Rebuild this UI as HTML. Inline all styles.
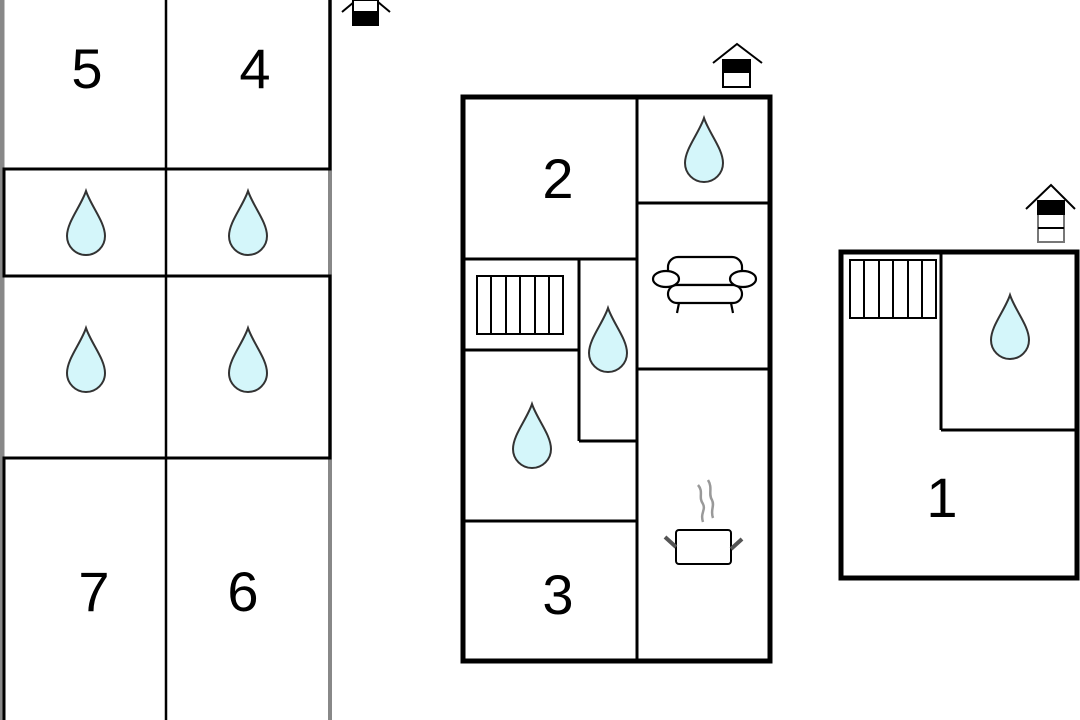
<!DOCTYPE html>
<html><head><meta charset="utf-8"><style>
html,body{margin:0;padding:0;background:#fff;}
svg{display:block}
text{font-family:"Liberation Sans",sans-serif;fill:#000;text-anchor:middle;}
</style></head><body>
<svg width="1080" height="720" viewBox="0 0 1080 720" xmlns="http://www.w3.org/2000/svg">
<defs>
<path id="drop" d="M0,0 C5,15 19,31 19,45 A19,19 0 0 1 -19,45 C-19,31 -5,15 0,0 Z" fill="#d4f6fa" stroke="#333" stroke-width="2"/>
</defs>
<rect width="1080" height="720" fill="#fff"/>
<!-- left building -->
<g stroke-linecap="square">
<line x1="2" y1="0" x2="2" y2="720" stroke="#888" stroke-width="5"/>
<line x1="330" y1="0" x2="330" y2="720" stroke="#888" stroke-width="4"/>
<g stroke="#000" stroke-width="3">
<line x1="4" y1="169" x2="4" y2="276"/>
<line x1="4" y1="458" x2="4" y2="720"/>
<line x1="330" y1="0" x2="330" y2="169"/>
<line x1="330" y1="276" x2="330" y2="458"/>
<line x1="4" y1="169" x2="330" y2="169"/>
<line x1="4" y1="276" x2="330" y2="276"/>
<line x1="4" y1="458" x2="330" y2="458"/>
<line x1="166" y1="0" x2="166" y2="720" stroke-width="2.5"/>
</g>
</g>
<use href="#drop" x="86" y="191"/>
<use href="#drop" x="248" y="191"/>
<use href="#drop" x="86" y="328"/>
<use href="#drop" x="248" y="328"/>
<text x="87" y="88" font-size="56">5</text>
<text x="255" y="88" font-size="56">4</text>
<text x="94" y="611" font-size="56">7</text>
<text x="243" y="611" font-size="56">6</text>
<!-- top house icon -->
<g stroke="#000" stroke-width="2" fill="none">
<polyline points="342,12 366,-8 390,12"/>
<rect x="353" y="0" width="25" height="25" fill="#fff"/>
<rect x="353" y="12" width="25" height="13" fill="#000"/>
</g>
<!-- middle building -->
<g stroke="#000" fill="none">
<rect x="463" y="97" width="307" height="564" stroke-width="5"/>
<g stroke-width="3">
<line x1="637" y1="97" x2="637" y2="661"/>
<line x1="637" y1="203" x2="770" y2="203"/>
<line x1="637" y1="369" x2="770" y2="369"/>
<line x1="463" y1="259" x2="637" y2="259"/>
<line x1="579" y1="259" x2="579" y2="441"/>
<line x1="463" y1="350" x2="579" y2="350"/>
<line x1="579" y1="441" x2="637" y2="441"/>
<line x1="463" y1="521" x2="637" y2="521"/>
</g>
<g stroke-width="2">
<rect x="477" y="276" width="86" height="58"/>
<line x1="491" y1="276" x2="491" y2="334"/><line x1="506" y1="276" x2="506" y2="334"/>
<line x1="520" y1="276" x2="520" y2="334"/><line x1="535" y1="276" x2="535" y2="334"/>
<line x1="549" y1="276" x2="549" y2="334"/>
</g>
<!-- sofa -->
<g stroke-width="2.2" fill="#fff">
<rect x="668" y="257" width="74" height="28" rx="10"/>
<rect x="668" y="285" width="74" height="18" rx="9"/>
<ellipse cx="666" cy="279" rx="13" ry="8"/>
<ellipse cx="743" cy="279" rx="13" ry="8"/>
<line x1="679" y1="303" x2="677" y2="313"/>
<line x1="731" y1="303" x2="733" y2="313"/>
</g>
<!-- pot -->
<rect x="676" y="530" width="55" height="34" rx="3" stroke-width="2" fill="#fff"/>
<line x1="665" y1="537" x2="676" y2="547" stroke="#555" stroke-width="4"/>
<line x1="742" y1="539" x2="731" y2="549" stroke="#555" stroke-width="4"/>
<path d="M698,485 C704,492 698,497 703,504 C706,510 700,513 703,522" stroke="#999" stroke-width="2.5"/>
<path d="M708,480 C713,488 708,494 712,500 C715,506 710,510 713,518" stroke="#999" stroke-width="2.5"/>
</g>
<use href="#drop" x="704" y="118"/>
<use href="#drop" x="608" y="308"/>
<use href="#drop" x="532" y="404"/>
<text x="558" y="198" font-size="56">2</text>
<text x="558" y="614" font-size="56">3</text>
<g stroke="#000" stroke-width="2" fill="none">
<polyline points="713,63 737,44 762,63"/>
<rect x="723" y="60" width="27" height="27" fill="#fff"/>
<rect x="723" y="60" width="27" height="12" fill="#000"/>
</g>
<!-- right building -->
<g stroke="#000" fill="none">
<rect x="841" y="252" width="236" height="326" stroke-width="5"/>
<line x1="941" y1="252" x2="941" y2="430" stroke-width="3"/>
<line x1="941" y1="430" x2="1077" y2="430" stroke-width="3"/>
<g stroke-width="2">
<rect x="850" y="260" width="86" height="58"/>
<line x1="864" y1="260" x2="864" y2="318"/><line x1="879" y1="260" x2="879" y2="318"/>
<line x1="893" y1="260" x2="893" y2="318"/><line x1="908" y1="260" x2="908" y2="318"/>
<line x1="922" y1="260" x2="922" y2="318"/>
</g>
</g>
<use href="#drop" x="1010" y="295"/>
<text x="942" y="517" font-size="56">1</text>
<g fill="none" stroke-width="2">
<polyline points="1026,209 1051,185 1075,209" stroke="#000"/>
<rect x="1038" y="201" width="26" height="41" fill="#fff" stroke="#777"/>
<rect x="1038" y="201" width="26" height="13" fill="#000" stroke="#000"/>
<line x1="1038" y1="228" x2="1064" y2="228" stroke="#000"/>
</g>
</svg>
</body></html>
